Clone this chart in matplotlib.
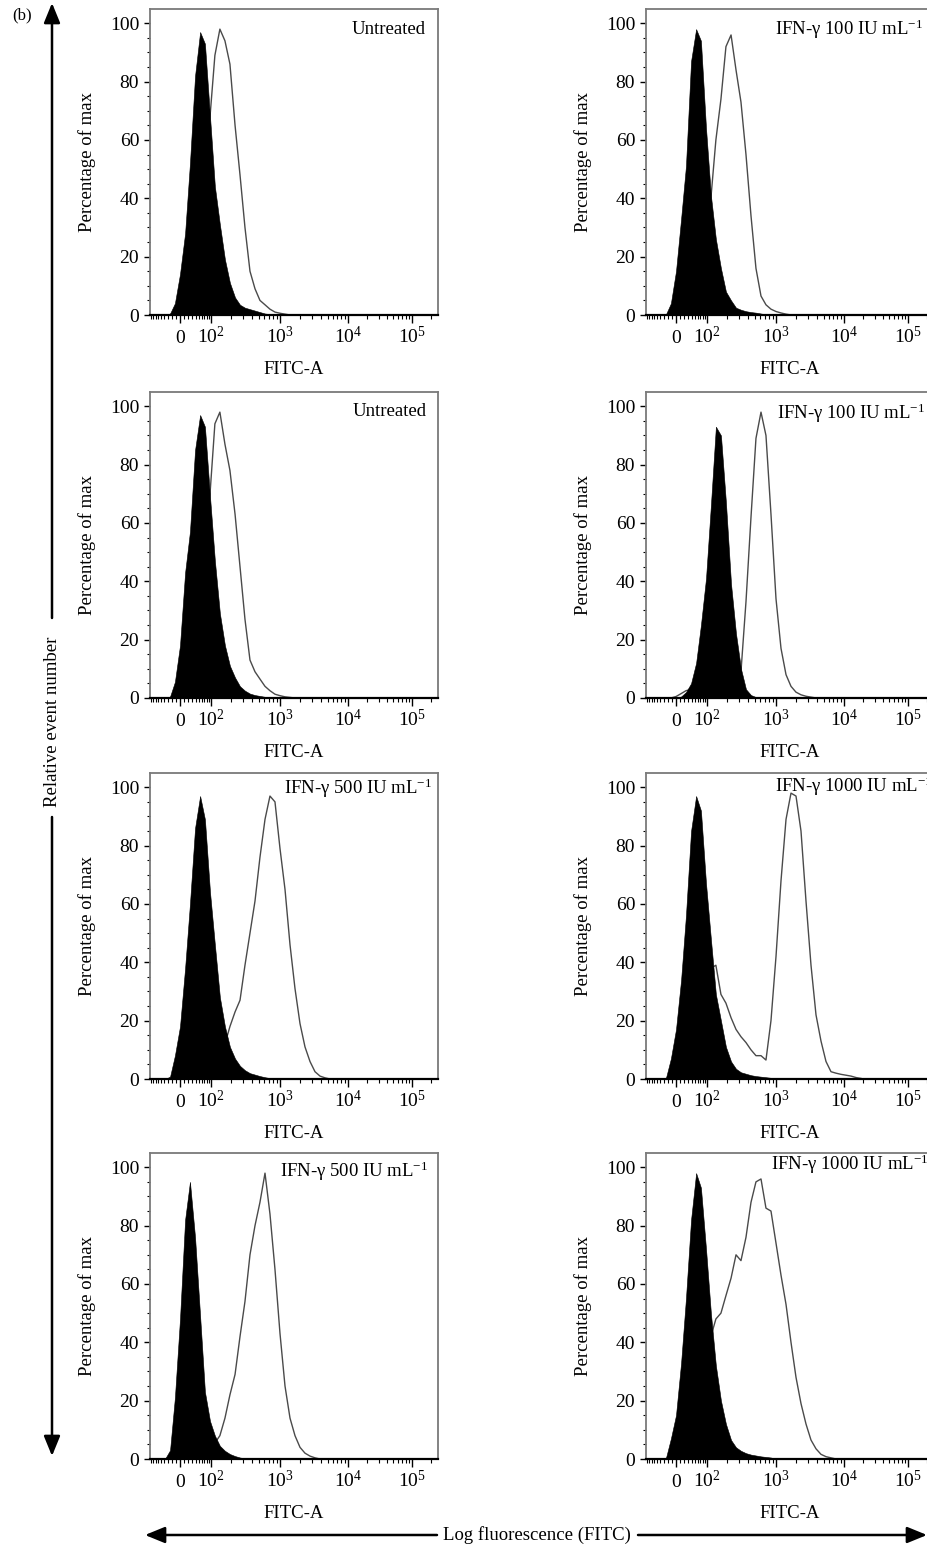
import numpy as np
import matplotlib
matplotlib.use("Agg")
import matplotlib.pyplot as plt
from matplotlib.patches import FancyArrowPatch

plt.rcParams["font.family"] = "Liberation Serif"
plt.rcParams["mathtext.fontset"] = "custom"
plt.rcParams["mathtext.rm"] = "Liberation Serif"
plt.rcParams["mathtext.it"] = "Liberation Serif:italic"
plt.rcParams["mathtext.bf"] = "Liberation Serif:bold"

# ---------------- data (FITC-A bin centres, percentage of max) ----------------
fitc_bins = [-38, -24, -12, 0, 12, 24, 38, 54, 72, 95, 115, 137, 163, 193, 229,
             270, 318, 375, 442, 520, 613, 721, 849, 1000, 1185, 1404, 1662, 1969,
             2332, 2762, 3272, 3875, 4590, 5436, 6440, 7625, 9033, 10745, 12860,
             15390, 18420]

untreated_1_control = [0, 0.5, 4, 14, 28, 52, 82, 97, 93, 68, 44, 31, 19, 11, 6, 3.5, 2.5, 2,
                       1.5, 1, 0.5, 0.3, 0, 0, 0, 0, 0, 0, 0, 0, 0, 0, 0, 0, 0, 0, 0, 0, 0, 0, 0]
untreated_1_stained = [0, 0, 1, 3, 7, 14, 24, 38, 52, 68, 89, 98, 94, 86, 65, 48, 30, 15, 9, 5,
                       3.5, 2, 1, 0.6, 0.3, 0, 0, 0, 0, 0, 0, 0, 0, 0, 0, 0, 0, 0, 0, 0, 0]

ifn100_1_control = [0, 0.3, 4, 15, 33, 51, 87, 98, 94, 64, 41, 26, 16, 8, 5, 2.5, 1.8, 1.3, 1,
                    0.8, 0.5, 0.2, 0, 0, 0, 0, 0, 0, 0, 0, 0, 0, 0, 0, 0, 0, 0, 0, 0, 0, 0]
ifn100_1_stained = [0, 0, 0.5, 1, 2, 4, 6, 9, 13, 22, 40, 60, 74, 92, 96, 84, 73, 55, 34, 16,
                    6.5, 3.5, 2, 1.2, 0.7, 0.3, 0, 0, 0, 0, 0, 0, 0, 0, 0, 0, 0, 0, 0, 0, 0]

untreated_2_control = [0, 0.5, 5.5, 18, 43, 57, 85, 97, 93, 69, 47, 29, 18, 11, 7, 4, 2.5, 1.5,
                       1, 0.7, 0.4, 0.2, 0, 0, 0, 0, 0, 0, 0, 0, 0, 0, 0, 0, 0, 0, 0, 0, 0, 0, 0]
untreated_2_stained = [0, 0, 1, 3, 7, 14, 24, 38, 52, 70, 94, 98, 87, 78, 63, 45, 27, 13, 9,
                       6.5, 4, 2.5, 1.3, 0.8, 0.4, 0.2, 0, 0, 0, 0, 0, 0, 0, 0, 0, 0, 0, 0, 0, 0, 0]

ifn100_2_control = [0, 0, 0, 0, 0.5, 2, 5, 12, 25, 41, 66, 93, 90, 67, 39, 22, 10, 3, 1, 0.3,
                    0, 0, 0, 0, 0, 0, 0, 0, 0, 0, 0, 0, 0, 0, 0, 0, 0, 0, 0, 0, 0]
ifn100_2_stained = [0, 0, 0, 0.5, 1.5, 2.5, 3, 3.5, 3.5, 3.5, 3.5, 3.5, 3.5, 4, 5, 7, 9, 33,
                    62, 89, 98, 90, 63, 34, 17, 8, 4, 2, 1.1, 0.6, 0.3, 0, 0, 0, 0, 0, 0, 0, 0, 0, 0]

ifn500_1_control = [0, 0.8, 8, 18, 38, 60, 86, 97, 89, 64, 46, 28, 18, 11, 7, 4.5, 3, 2, 1.5, 1,
                    0.6, 0.3, 0, 0, 0, 0, 0, 0, 0, 0, 0, 0, 0, 0, 0, 0, 0, 0, 0, 0, 0]
ifn500_1_stained = [0, 0, 0.5, 1, 2, 3, 4, 5, 6, 7, 8, 10, 12, 18, 23, 27, 39, 50, 61, 76, 89,
                    97, 95, 79, 65, 46, 31, 19, 11, 6, 2.5, 1, 0.4, 0, 0, 0, 0, 0, 0, 0, 0]

ifn1000_1_control = [0, 0.5, 7, 17, 34, 56, 85, 97, 92, 67, 48, 29, 20, 11, 6, 3.5, 2.3, 1.8,
                     1.3, 1, 0.8, 0.6, 0.4, 0, 0, 0, 0, 0, 0, 0, 0, 0, 0, 0, 0, 0, 0, 0, 0, 0, 0]
ifn1000_1_stained = [0, 0, 1, 3, 6, 10, 15, 20, 26, 32, 38, 39, 29, 26, 21, 17, 14.5, 12.5, 10,
                     8, 8, 6.5, 20, 42, 68, 89, 98, 97, 85, 61, 39, 22, 13, 6, 2.5, 2, 1.6,
                     1.3, 1.0, 0.5, 0.2]

ifn500_2_control = [0, 3, 21, 48, 82, 95, 76, 49, 23, 13, 8, 4.5, 2.8, 1.7, 1, 0.5, 0.2, 0, 0,
                    0, 0, 0, 0, 0, 0, 0, 0, 0, 0, 0, 0, 0, 0, 0, 0, 0, 0, 0, 0, 0, 0]
ifn500_2_stained = [0, 0.5, 1, 1.5, 2, 2.5, 3, 3.5, 4, 4.5, 5.5, 8, 14, 22, 29, 42, 54, 70, 80,
                    88, 98, 84, 65, 43, 25, 14, 8, 4, 2, 1, 0.4, 0, 0, 0, 0, 0, 0, 0, 0, 0, 0]

ifn1000_2_control = [0, 0.5, 7, 15, 33, 55, 82, 98, 93, 72, 50, 32, 20, 12, 6.5, 4, 2.8, 2,
                     1.5, 1.2, 0.9, 0.7, 0.5, 0, 0, 0, 0, 0, 0, 0, 0, 0, 0, 0, 0, 0, 0, 0, 0, 0, 0]
ifn1000_2_stained = [0, 0, 1, 3, 6, 10, 16, 22, 28, 34, 42, 48, 50, 56, 62, 70, 68, 76, 88, 95,
                     96, 86, 85, 74, 63, 53, 40, 28, 19, 12, 6.5, 3.5, 1.6, 0.8, 0.4, 0, 0, 0,
                     0, 0, 0]

panel_titles = ["Untreated", "IFN-γ 100 IU mL$^{-1}$",
                "Untreated", "IFN-γ 100 IU mL$^{-1}$",
                "IFN-γ 500 IU mL$^{-1}$", "IFN-γ 1000 IU mL$^{-1}$",
                "IFN-γ 500 IU mL$^{-1}$", "IFN-γ 1000 IU mL$^{-1}$"]
panel_controls = [untreated_1_control, ifn100_1_control, untreated_2_control, ifn100_2_control,
                  ifn500_1_control, ifn1000_1_control, ifn500_2_control, ifn1000_2_control]
panel_stained = [untreated_1_stained, ifn100_1_stained, untreated_2_stained, ifn100_2_stained,
                 ifn500_1_stained, ifn1000_1_stained, ifn500_2_stained, ifn1000_2_stained]

x_major = [0, 100, 1000, 10000, 100000]
x_major_labels = ["0", r"$\mathregular{10^{2}}$", r"$\mathregular{10^{3}}$",
                  r"$\mathregular{10^{4}}$", r"$\mathregular{10^{5}}$"]
x_minor = ([-v for v in range(10, 100, 10)] + list(range(10, 100, 10)) +
           list(range(200, 1000, 100)) + list(range(2000, 10000, 1000)) +
           list(range(20000, 100000, 10000)) + [200000])
y_major = [0, 20, 40, 60, 80, 100]

# ---------------- biexponential-like axis transform ----------------
ANCH_X = np.array([-1000.0, -100.0, 0.0, 100.0, 1000.0, 1e4, 1e5, 1e6])
ANCH_P = np.array([-69.0, -1.0, 30.0, 61.0, 130.0, 198.0, 262.0, 326.0])
WID = 50.0
ANCH_U = np.arcsinh(ANCH_X / WID)


def fwd(x):
    return np.interp(np.arcsinh(np.asarray(x, dtype=float) / WID), ANCH_U, ANCH_P)


def inv(p):
    return WID * np.sinh(np.interp(np.asarray(p, dtype=float), ANCH_P, ANCH_U))


# ---------------- figure layout ----------------
W, H = 928, 1546
fig = plt.figure(figsize=(W / 100, H / 100), dpi=100)

col_left = [150, 646]
ax_w = 288
row_bottom = [315, 698, 1079, 1459]
ax_h = 306
YTOP = 104.9

# title placement: (px from right spine, px from top spine)
title_pos = [(12, 20), (11, 20), (11, 20), (9, 21), (6, 15), (2, 13), (10, 18), (6, 11)]

FS = 13.5
TFS = 14
for i in range(8):
    r, c = divmod(i, 2)
    x0 = col_left[c]
    yb = row_bottom[r]
    ax = fig.add_axes([x0 / W, 1 - yb / H, ax_w / W, ax_h / H])
    ax.set_xscale("function", functions=(fwd, inv))
    ax.set_xlim(float(inv(0)), float(inv(ax_w)))
    ax.set_ylim(0, YTOP)

    ax.plot(fitc_bins, panel_stained[i], color="#4a4a4a", lw=1.0, zorder=2)
    ax.fill_between(fitc_bins, panel_controls[i], 0, color="black", lw=0.4,
                    edgecolor="black", zorder=3)

    ax.set_xticks(x_major)
    ax.set_xticklabels(x_major_labels)
    ax.set_xticks(x_minor, minor=True)
    ax.set_yticks(y_major)
    ax.set_yticks(np.arange(0, 101, 5), minor=True)
    ax.tick_params(axis="x", which="major", direction="out", length=6, width=1.0,
                   pad=14.5, labelsize=TFS)
    ax.tick_params(axis="x", which="minor", direction="out", length=3, width=0.8)
    ax.tick_params(axis="y", which="major", direction="out", length=4.3, width=1.0,
                   pad=3.5, labelsize=TFS)
    ax.tick_params(axis="y", which="minor", direction="out", length=2.2, width=0.8)
    ax.tick_params(colors="black")
    for lbl in ax.get_xticklabels():
        lbl.set_verticalalignment("baseline")

    for s in ["top", "right", "left"]:
        ax.spines[s].set_color("#7a7a7a")
        ax.spines[s].set_linewidth(1.3)
    ax.spines["bottom"].set_color("black")
    ax.spines["bottom"].set_linewidth(1.6)
    ax.spines["bottom"].set_zorder(5)

    ax.set_xlabel("FITC-A", fontsize=FS)
    ax.xaxis.set_label_coords(0.5, -46 / ax_h)
    ax.set_ylabel("Percentage of max", fontsize=FS)
    ax.yaxis.set_label_coords(-54 / ax_w, 0.5)

    dx, dy = title_pos[i]
    ax.text(1 - dx / ax_w, 1 - dy / ax_h, panel_titles[i], transform=ax.transAxes,
            ha="right", va="center", fontsize=FS, zorder=6)


def fx(px):
    return px / W


def fy(py):
    return 1 - py / H


arrow_kw = dict(transform=fig.transFigure, arrowstyle="-|>,head_length=1.1,head_width=0.45",
                mutation_scale=11, color="black", lw=1.8, shrinkA=0, shrinkB=0)
# vertical arrow (relative event number)
fig.add_artist(FancyArrowPatch((fx(52), fy(618)), (fx(52), fy(3)), **arrow_kw))
fig.add_artist(FancyArrowPatch((fx(52), fy(817)), (fx(52), fy(1456)), **arrow_kw))
fig.text(fx(53), fy(722), "Relative event number", rotation=90, ha="center", va="center",
         fontsize=FS)
# horizontal arrow (log fluorescence)
fig.add_artist(FancyArrowPatch((fx(437), fy(1535)), (fx(145), fy(1535)), **arrow_kw))
fig.add_artist(FancyArrowPatch((fx(638), fy(1535)), (fx(927), fy(1535)), **arrow_kw))
fig.text(fx(537), fy(1535), "Log fluorescence (FITC)", ha="center", va="center", fontsize=FS)

fig.text(fx(12), fy(15), "(b)", ha="left", va="center", fontsize=12)

fig.savefig("out.png", dpi=100, facecolor="white")
